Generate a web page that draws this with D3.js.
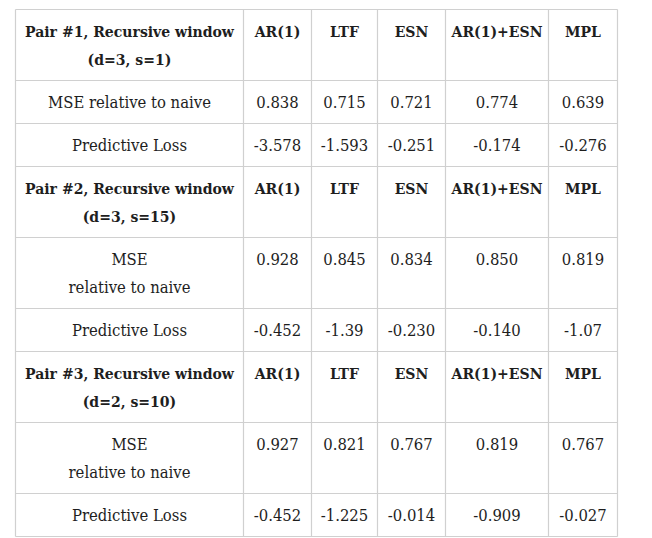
<!DOCTYPE html>
<html>
<head>
<meta charset="utf-8">
<script src="https://cdn.jsdelivr.net/npm/d3@7"></script>
<style>
  html, body { margin: 0; padding: 0; background: #fff; }
  svg { display: block; }
  text { font-family: "DejaVu Serif Condensed", "DejaVu Serif", serif; font-stretch: condensed; fill: #1e1e1e; }
</style>
</head>
<body>
<svg id="chart" width="652" height="538"></svg>
<script>
// ---- data ----
const models = ["AR(1)", "LTF", "ESN", "AR(1)+ESN", "MPL"];
const pairTitles = [
  ["Pair #1, Recursive window", "(d=3, s=1)"],
  ["Pair #2, Recursive window", "(d=3, s=15)"],
  ["Pair #3, Recursive window", "(d=2, s=10)"]
];
const mseLabels = [
  ["MSE relative to naive"],
  ["MSE", "relative to naive"],
  ["MSE", "relative to naive"]
];
const lossLabel = ["Predictive Loss"];
const mseValues = [
  ["0.838", "0.715", "0.721", "0.774", "0.639"],
  ["0.928", "0.845", "0.834", "0.850", "0.819"],
  ["0.927", "0.821", "0.767", "0.819", "0.767"]
];
const lossValues = [
  ["-3.578", "-1.593", "-0.251", "-0.174", "-0.276"],
  ["-0.452", "-1.39", "-0.230", "-0.140", "-1.07"],
  ["-0.452", "-1.225", "-0.014", "-0.909", "-0.027"]
];

// ---- layout ----
const colKeys = ["label"].concat(models);
const colWidths = [228, 68, 66, 68, 103, 69];
const tableLeft = 15.5, tableTop = 9.5;
const lineH = 28, baselineOff = 27, padV = 7.5;
const bodySize = 16.5, headSize = 15.6;

const colLefts = [];
colWidths.reduce((acc, w) => { colLefts.push(acc); return acc + w; }, tableLeft);
const xLeft = d3.scaleOrdinal().domain(colKeys).range(colLefts);
const xWidth = d3.scaleOrdinal().domain(colKeys).range(colWidths);

// build rows
const rows = [];
pairTitles.forEach((title, i) => {
  rows.push({ type: "header", cells: [title].concat(models.map(m => [m])) });
  rows.push({ type: "body", cells: [mseLabels[i]].concat(mseValues[i].map(v => [v])) });
  rows.push({ type: "body", cells: [lossLabel].concat(lossValues[i].map(v => [v])) });
});
rows.forEach(r => {
  r.lines = d3.max(r.cells, c => c.length);
  r.height = r.lines * lineH + 2 * padV;
});
const rowTops = [];
rows.reduce((acc, r) => { rowTops.push(acc); return acc + r.height; }, tableTop);
const y = d3.scaleOrdinal().domain(d3.range(rows.length)).range(rowTops);
const totalW = d3.sum(colWidths);
const totalH = d3.sum(rows, r => r.height);

const svg = d3.select("#chart");

// cells text
const rowG = svg.selectAll("g.row").data(rows).join("g")
  .attr("class", "row")
  .attr("transform", (d, i) => `translate(0,${y(i)})`);

rowG.each(function(r) {
  const g = d3.select(this);
  r.cells.forEach((lines, ci) => {
    const key = colKeys[ci];
    const cx = xLeft(key) + xWidth(key) / 2;
    const isHead = r.type === "header";
    const t = g.append("text")
      .attr("text-anchor", "middle")
      .attr("font-size", isHead ? headSize : bodySize)
      .attr("font-weight", isHead ? "bold" : "normal");
    lines.forEach((ln, li) => {
      t.append("tspan").attr("x", cx).attr("y", baselineOff + li * lineH).text(ln);
    });
  });
});

// grid lines
const grid = svg.append("g").attr("stroke", "#d0d0d0").attr("stroke-width", 1.2).attr("fill", "none");
const hLines = rowTops.concat([tableTop + totalH]);
grid.selectAll("line.h").data(hLines).join("line")
  .attr("x1", tableLeft).attr("x2", tableLeft + totalW)
  .attr("y1", d => d).attr("y2", d => d);
const vLines = colLefts.concat([tableLeft + totalW]);
grid.selectAll("line.v").data(vLines).join("line")
  .attr("y1", tableTop).attr("y2", tableTop + totalH)
  .attr("x1", d => d).attr("x2", d => d);
</script>
</body>
</html>
